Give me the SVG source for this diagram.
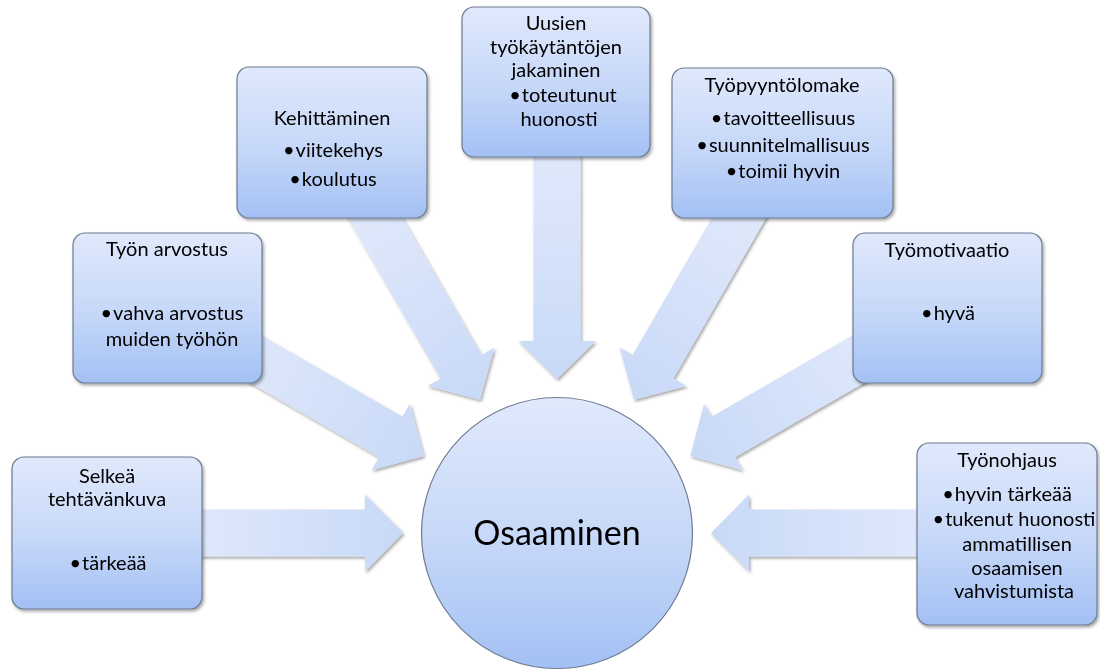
<svg xmlns="http://www.w3.org/2000/svg" xmlns:xlink="http://www.w3.org/1999/xlink" width="1100" height="669" viewBox="0 0 1100 669">
  <defs>
    <!-- vertical fill shared by the boxes and the centre circle -->
    <linearGradient id="nodeFill" x1="0" y1="0" x2="0" y2="1">
      <stop offset="0" stop-color="#e0e9fc"/>
      <stop offset="0.55" stop-color="#c5d7f8"/>
      <stop offset="1" stop-color="#a3c0f4"/>
    </linearGradient>
    <!-- arrow fill runs from tail (light) to tip (deeper), in the arrow's own frame -->
    <linearGradient id="arrowFill" gradientUnits="userSpaceOnUse" x1="-210" y1="0" x2="0" y2="0">
      <stop offset="0" stop-color="#dfe8fb"/>
      <stop offset="1" stop-color="#c8d9f7"/>
    </linearGradient>
    <filter id="softShadow" x="-10%" y="-10%" width="125%" height="125%">
      <feDropShadow dx="1.5" dy="2" stdDeviation="1.8" flood-color="#000" flood-opacity="0.35"/>
    </filter>
    <!-- block arrow pointing along +x, tip at the origin -->
    <path id="arrow" d="M -292,-23.5 L -38,-23.5 L -38,-38.5 L 0,0 L -38,38.5 L -38,23.5 L -292,23.5 Z" fill="url(#arrowFill)"/>
  </defs>
  <style>
    .box { fill: url(#nodeFill); stroke: #6e7b91; stroke-width: 1.2; }
    text { font-family: Lato, "Open Sans", "DejaVu Sans", sans-serif; font-size: 20px; fill: #000; text-anchor: middle; }
    .big { font-size: 34px; }
  </style>

  <rect width="1100" height="669" fill="#ffffff"/>

  <!-- connectors: seven block arrows converging on the centre (557,533) -->
  <g id="connectors" filter="url(#softShadow)">
    <use xlink:href="#arrow" href="#arrow" transform="translate(557 533) rotate(0) translate(-154 0)"/>
    <use xlink:href="#arrow" href="#arrow" transform="translate(557 533) rotate(30) translate(-154 0)"/>
    <use xlink:href="#arrow" href="#arrow" transform="translate(557 533) rotate(60) translate(-154 0)"/>
    <use xlink:href="#arrow" href="#arrow" transform="translate(557 533) rotate(90) translate(-154 0)"/>
    <use xlink:href="#arrow" href="#arrow" transform="translate(557 533) rotate(120) translate(-154 0)"/>
    <use xlink:href="#arrow" href="#arrow" transform="translate(557 533) rotate(150) translate(-154 0)"/>
    <use xlink:href="#arrow" href="#arrow" transform="translate(557 533) rotate(180) translate(-154 0)"/>
  </g>

  <g id="selkea" filter="url(#softShadow)">
    <rect class="box" x="12" y="457" width="190" height="152" rx="12"/>
    <text x="107" y="483">Selkeä</text>
    <text x="107" y="506">tehtävänkuva</text>
    <text x="108" y="570">•<tspan dx="1">tärkeää</tspan></text>
  </g>

  <g id="tyon-arvostus" filter="url(#softShadow)">
    <rect class="box" x="73" y="233" width="189" height="150" rx="12"/>
    <text x="167" y="256">Työn arvostus</text>
    <text x="172" y="320">•<tspan dx="1">vahva arvostus</tspan></text>
    <text x="172" y="346">muiden työhön</text>
  </g>

  <g id="kehittaminen" filter="url(#softShadow)">
    <rect class="box" x="237" y="67" width="190" height="151" rx="12"/>
    <text x="332" y="125">Kehittäminen</text>
    <text x="333" y="157">•<tspan dx="1">viitekehys</tspan></text>
    <text x="333" y="185.5">•<tspan dx="1">koulutus</tspan></text>
  </g>

  <g id="uusien" filter="url(#softShadow)">
    <rect class="box" x="462" y="7" width="188" height="150" rx="12"/>
    <text x="556" y="30">Uusien</text>
    <text x="556" y="53.5">työkäytäntöjen</text>
    <text x="556" y="77">jakaminen</text>
    <text x="563" y="101.5">•<tspan dx="1">toteutunut</tspan></text>
    <text x="559" y="125.5">huonosti</text>
  </g>

  <g id="tyopyyntolomake" filter="url(#softShadow)">
    <rect class="box" x="672" y="68" width="221" height="150" rx="12"/>
    <text x="782" y="92">Työpyyntölomake</text>
    <text x="783" y="125">•<tspan dx="1">tavoitteellisuus</tspan></text>
    <text x="783" y="152">•<tspan dx="1">suunnitelmallisuus</tspan></text>
    <text x="783" y="178">•<tspan dx="1">toimii hyvin</tspan></text>
  </g>

  <g id="tyomotivaatio" filter="url(#softShadow)">
    <rect class="box" x="853" y="233" width="189" height="150" rx="12"/>
    <text x="947" y="256.5">Työmotivaatio</text>
    <text x="948" y="320">•<tspan dx="1">hyvä</tspan></text>
  </g>

  <g id="tyonohjaus" filter="url(#softShadow)">
    <rect class="box" x="917" y="443" width="180" height="182" rx="12"/>
    <text x="1007" y="467">Työnohjaus</text>
    <text x="1007" y="501">•<tspan dx="1">hyvin tärkeää</tspan></text>
    <text x="1014" y="526">•<tspan dx="1">tukenut huonosti</tspan></text>
    <text x="1017" y="551">ammatillisen</text>
    <text x="1017" y="575">osaamisen</text>
    <text x="1014" y="598">vahvistumista</text>
  </g>

  <g id="osaaminen">
    <circle cx="557" cy="533" r="135.5" fill="url(#nodeFill)" stroke="#6e7b91" stroke-width="1.2"/>
    <text class="big" x="557" y="545">Osaaminen</text>
  </g>
</svg>
